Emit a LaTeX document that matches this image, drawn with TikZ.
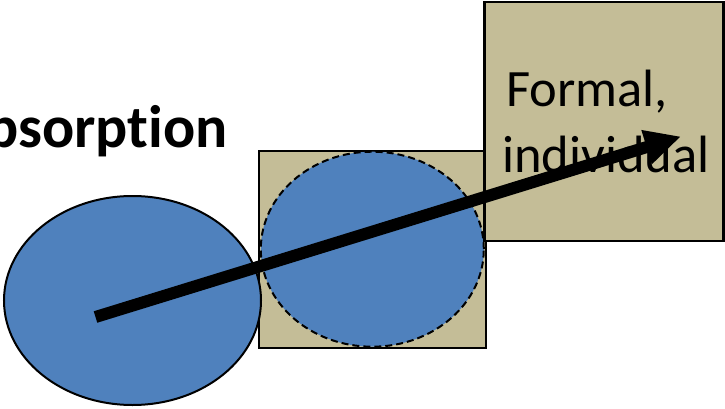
\documentclass[tikz,border=0pt]{standalone}
\usepackage{fontspec}
\setmainfont{Carlito}[Ligatures=NoCommon]
\usetikzlibrary{shapes.geometric,arrows.meta}
\definecolor{oblue}{HTML}{4F81BD}
\definecolor{otan}{HTML}{C4BD97}
\tikzset{
  blob/.style={ellipse,draw=black,line width=2pt,fill=oblue,inner sep=0pt},
  tanbox/.style={rectangle,draw=black,line width=2.2pt,fill=otan,inner sep=0pt},
  lbl/.style={inner sep=0pt,font=\fontsize{52.5}{65}\selectfont},
}
\begin{document}
\begin{tikzpicture}[x=1pt,y=-1pt]
\useasboundingbox (0,0) rectangle (725,409);
\node[anchor=base east,inner sep=0pt,font=\fontsize{60}{70}\selectfont\bfseries] (title) at (228,147) {Absorption};
\node[tanbox,minimum width=227pt,minimum height=197pt] (mid) at (372.5,249.5) {};
\node[blob,minimum width=257pt,minimum height=209pt] (left) at (132.5,300.5) {};
\node[blob,dash pattern=on 7pt off 4pt,minimum width=223pt,minimum height=195pt] (inner) at (372.3,249.2) {};
\node[tanbox,minimum width=239pt,minimum height=239pt] (right) at (604,121.5) {};
\node[lbl,anchor=base west] (t1) at (506,107) {Formal,};
\node[lbl,anchor=base west] (t2) at (502,172) {individual};
\coordinate (s) at (95.5,317);
\coordinate (e) at (681,136.5);
\draw[line width=12pt,-{Triangle[length=36pt,width=33pt]}] (s) -- (e);
\end{tikzpicture}
\end{document}
